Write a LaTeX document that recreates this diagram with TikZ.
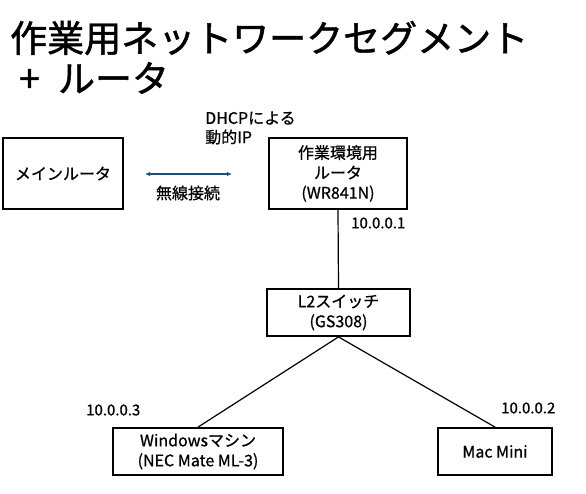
\documentclass[tikz,border=0pt]{standalone}
\usepackage{fontspec}
\setmainfont{Noto Sans CJK JP}
\newfontfamily\medfont{Noto Sans CJK JP}[RawFeature={embolden=0.7}]
\newfontfamily\ttlfont{Noto Sans CJK JP}[RawFeature={embolden=1.3}]
\usetikzlibrary{arrows.meta}
\definecolor{arrowblue}{HTML}{1F4E79}
\tikzset{
  devbox/.style={draw=black, line width=1.8pt, fill=white, inner sep=0pt, align=center,
    font=\medfont\fontsize{16}{20}\selectfont},
  link/.style={draw=black, line width=1.2pt},
  lbl/.style={inner sep=0pt, font=\medfont\fontsize{15}{19}\selectfont},
  titletext/.style={inner sep=0pt, anchor=west, font=\ttlfont\fontsize{37}{40}\selectfont}
}
\begin{document}
\begin{tikzpicture}[x=1pt,y=-1pt]
\useasboundingbox (0,0) rectangle (586,493);
% title
\node[titletext] (t1) at (10,38) {作業用ネットワークセグメント};
\node[titletext] (t2) at (19,78) {+\hspace{10pt} ルータ};
% boxes
\node[devbox, minimum width=120pt, minimum height=71pt] (main) at (63,173.5) {メインルータ};
\node[devbox, minimum width=138pt, minimum height=71pt] (work) at (338,173.5) {作業環境用\\ルータ\\(WR841N)};
\node[devbox, minimum width=143pt, minimum height=47pt] (sw) at (338.5,312.5) {L2スイッチ\\(GS308)};
\node[devbox, minimum width=170pt, minimum height=47pt] (win) at (198,451.5) {Windowsマシン\\(NEC Mate ML-3)};
\node[devbox, minimum width=114pt, minimum height=47pt] (mac) at (495,451.5) {Mac Mini};
% connectors
\draw[link] (work.south) -- (sw.north);
\draw[link] (sw.south) -- (win.north);
\draw[link] (sw.south) -- (mac.north);
% wireless arrow
\coordinate (a1) at (145,174);
\coordinate (a2) at (232,174);
\draw[arrowblue, line width=1.2pt, {Latex[length=5pt,width=4.5pt]}-{Latex[length=5pt,width=4.5pt]}] (a1) -- (a2);
\node[lbl, font=\medfont\fontsize{16}{20}\selectfont] (wl) at (188,193) {無線接続};
% labels
\node[lbl, anchor=west, font=\medfont\fontsize{16}{20}\selectfont] (dhcp1) at (205,118) {DHCPによる};
\node[lbl, anchor=west, font=\medfont\fontsize{16}{20}\selectfont] (dhcp2) at (205,137) {動的IP};
\node[lbl, anchor=west] (ip1) at (351,223) {10.0.0.1};
\node[lbl, anchor=west] (ip3) at (86,410) {10.0.0.3};
\node[lbl, anchor=west] (ip2) at (501,408) {10.0.0.2};
\end{tikzpicture}
\end{document}
